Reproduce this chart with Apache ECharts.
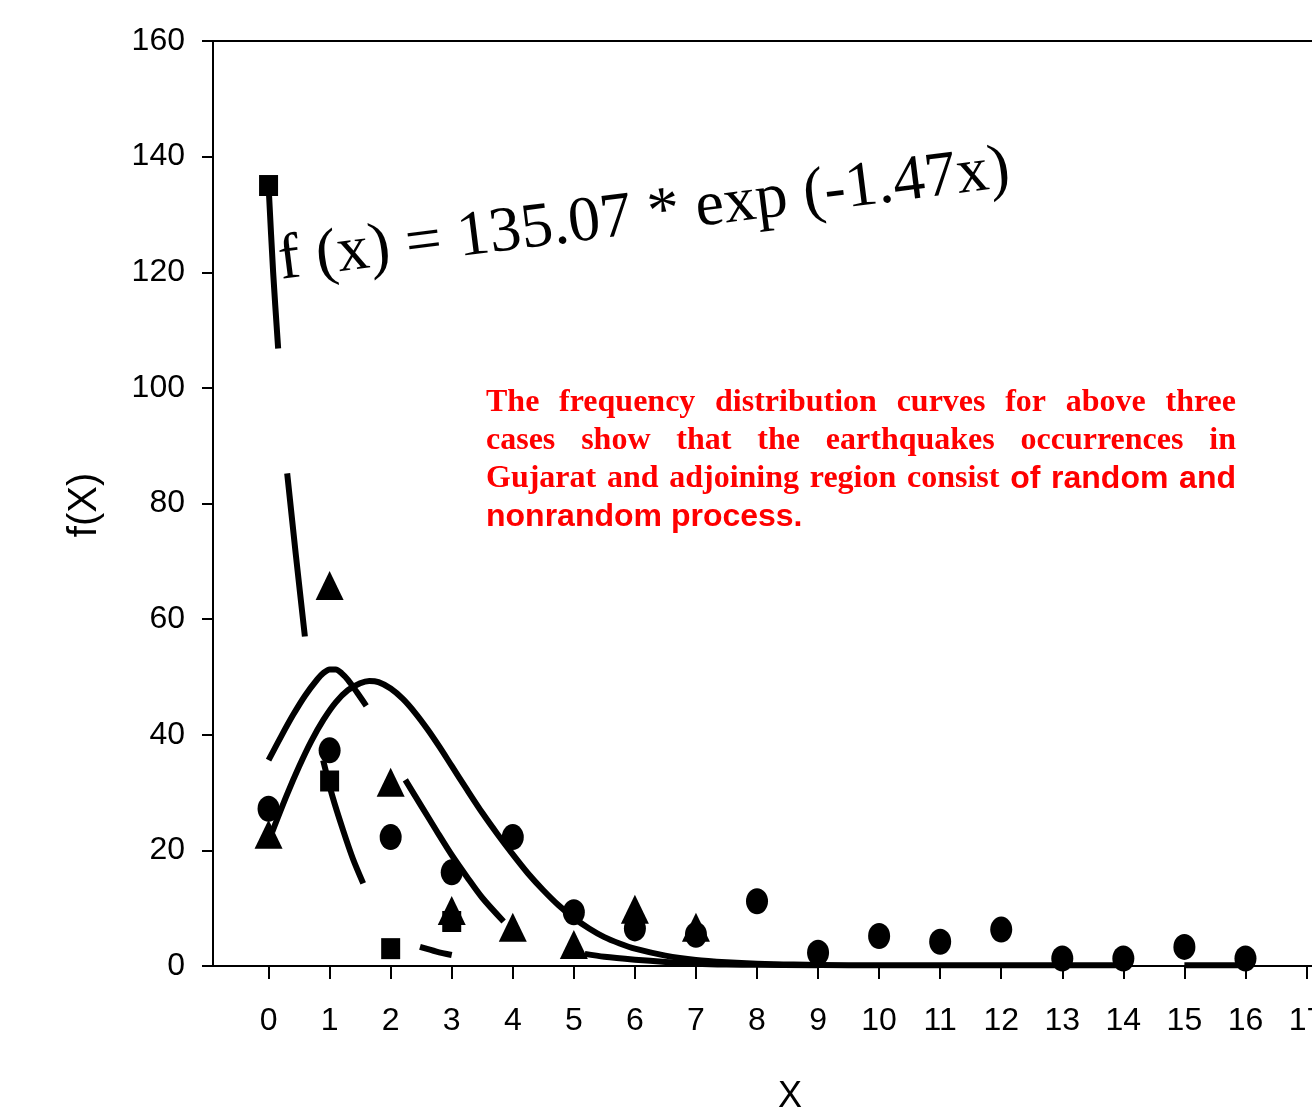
<!DOCTYPE html>
<html>
<head>
<meta charset="utf-8">
<script src="https://cdn.jsdelivr.net/npm/echarts@6.0.0/dist/echarts.min.js"></script>
<style>
  html, body { margin: 0; padding: 0; background: #fff; }
  #chart { width: 1312px; height: 1115px; }
</style>
</head>
<body>
<div id="chart"></div>
<script>
// axis ticks
const xTicks = [0, 1, 2, 3, 4, 5, 6, 7, 8, 9, 10, 11, 12, 13, 14, 15, 16, 17];
const yTicks = [0, 20, 40, 60, 80, 100, 120, 140, 160];

const squareX = [0, 1, 2, 3];
const squareY = [135.0, 32.0, 3.0, 7.7];
const triangleX = [0, 1, 2, 3, 4, 5, 6, 7];
const triangleY = [22.8, 65.8, 31.8, 9.6, 6.7, 3.7, 9.8, 6.7];
const circleX = [0, 1, 2, 3, 4, 5, 6, 7, 8, 9, 10, 11, 12, 13, 14, 15, 16];
const circleY = [27.2, 37.3, 22.3, 16.2, 22.3, 9.3, 6.5, 5.4, 11.2, 2.3, 5.2, 4.2, 6.3, 1.3, 1.3, 3.3, 1.3];

// fitted curves; null = gap in the dashed line
const expCurve = [
  [0, 135.0], [0.075, 120.0], [0.157, 106.8], null,
  [0.305, 85.2], [0.447, 71.1], [0.595, 57.0], null,
  [0.894, 35.6], [1.05, 29.2], [1.22, 23.5], [1.38, 18.6], [1.55, 14.3], null,
  [2.48, 3.3], [2.75, 2.5], [3.0, 1.9]
];
const peakCurveA = [
  [0, 35.6], [0.2, 39.6], [0.4, 43.4], [0.6, 46.8], [0.8, 49.6], [0.9, 50.7], [1.0, 51.3],
  [1.1, 51.3], [1.2, 50.6], [1.3, 49.5], [1.45, 47.3], [1.6, 45.0], null,
  [2.24, 32.2], [2.5, 27.7], [2.75, 23.4], [3.0, 19.2], [3.25, 15.4], [3.5, 11.8], [3.85, 7.7], null,
  [5.18, 2.1], [5.5, 1.6], [6.0, 1.1], [6.5, 0.7], [7.0, 0.4], [7.5, 0.25], [8.0, 0.2], [9.0, 0.15], null,
  [15.0, 0.15], [16.0, 0.15]
];
const peakCurveB = [
  [0.06, 23.2], [0.3, 29.6], [0.5, 34.5], [0.7, 38.9], [0.9, 42.6], [1.1, 45.6], [1.3, 47.7],
  [1.5, 48.9], [1.65, 49.3], [1.8, 49.1], [2.0, 48.0], [2.2, 46.2], [2.4, 43.8], [2.6, 41.0],
  [2.8, 37.9], [3.0, 34.6], [3.25, 30.5], [3.5, 26.5], [3.75, 22.8], [4.0, 19.3], [4.25, 16.0],
  [4.5, 13.1], [4.75, 10.5], [5.0, 8.3], [5.25, 6.5], [5.5, 5.0], [5.75, 3.9], [6.0, 3.0],
  [6.5, 1.8], [7.0, 1.05], [7.5, 0.65], [8.0, 0.4], [8.6, 0.25], [9.5, 0.15], [11.0, 0.15],
  [13.9, 0.15]
];

const equationText = 'f (x) = 135.07 * exp (-1.47x)';
const noteLines = [
  { serif: 'The frequency distribution curves for above three', sans: '', justify: true },
  { serif: 'cases show that the earthquakes occurrences in', sans: '', justify: true },
  { serif: 'Gujarat and adjoining region consist', sans: 'of random and', justify: true },
  { serif: '', sans: 'nonrandom process.', justify: false }
];

const serifBold = 'bold 32px "Liberation Serif", "Times New Roman", serif';
const sansBold = 'bold 32px "Liberation Sans", Arial, sans-serif';

const zipPts = (xs, ys) => xs.map((x, i) => [x, ys[i]]);
const withGaps = pts => pts.map(p => p || ['-', '-']);

// justified red note, word by word
const measureCtx = document.createElement('canvas').getContext('2d');
const noteLeft = 486, noteRight = 1236, noteTop = 403, noteLead = 38;
const noteElements = [];
noteLines.forEach((line, i) => {
  const words = [];
  line.serif.split(' ').filter(Boolean).forEach(w => words.push({ w, font: serifBold }));
  line.sans.split(' ').filter(Boolean).forEach(w => words.push({ w, font: sansBold }));
  const widths = words.map(o => {
    measureCtx.font = o.font;
    return measureCtx.measureText(o.w).width;
  });
  const total = widths.reduce((a, b) => a + b, 0);
  let gap;
  if (line.justify) {
    gap = (noteRight - noteLeft - total) / (words.length - 1);
  } else {
    measureCtx.font = words[0].font;
    gap = measureCtx.measureText(' ').width;
  }
  let x = noteLeft;
  words.forEach((o, k) => {
    noteElements.push({
      type: 'text',
      x: x,
      y: noteTop + i * noteLead,
      z: 10,
      style: {
        text: o.w, font: o.font, fill: '#ff0000',
        align: 'left', verticalAlign: 'middle',
        textAlign: 'left', textVerticalAlign: 'middle'
      }
    });
    x += widths[k] + gap;
  });
});

const curveStyle = { color: '#000', width: 6, cap: 'butt', join: 'round' };
const markStyle = { color: '#000', opacity: 1 };

const chart = echarts.init(document.getElementById('chart'), null, { renderer: 'canvas' });
chart.setOption({
  animation: false,
  backgroundColor: '#fff',
  grid: {
    left: 213,
    right: 0,
    top: 41,
    bottom: 149,
    containLabel: false,
    outerBoundsMode: 'none'
  },
  xAxis: [
    {
      type: 'value',
      min: -0.91,
      max: 17.09,
      splitLine: { show: false },
      axisLine: { show: true, onZero: false, lineStyle: { color: '#000', width: 2 } },
      axisTick: { show: true, length: 13, customValues: xTicks, lineStyle: { color: '#000', width: 2 } },
      axisLabel: {
        customValues: xTicks,
        margin: 39,
        color: '#000',
        fontSize: 32,
        fontFamily: '"Liberation Sans", Arial, sans-serif'
      }
    },
    {
      type: 'value',
      position: 'top',
      min: -0.91,
      max: 17.09,
      splitLine: { show: false },
      axisLine: { show: true, onZero: false, lineStyle: { color: '#000', width: 2 } },
      axisTick: { show: false },
      axisLabel: { show: false }
    }
  ],
  yAxis: {
    type: 'value',
    min: 0,
    max: 160,
    interval: 20,
    splitLine: { show: false },
    axisLine: { show: true, onZero: false, lineStyle: { color: '#000', width: 2 } },
    axisTick: { show: true, length: 11, lineStyle: { color: '#000', width: 2 } },
    axisLabel: {
      customValues: yTicks,
      margin: 28,
      color: '#000',
      fontSize: 32,
      fontFamily: '"Liberation Sans", Arial, sans-serif'
    }
  },
  series: [
    {
      type: 'line', data: withGaps(expCurve), smooth: 0.3, symbol: 'none',
      lineStyle: curveStyle, connectNulls: false, z: 3
    },
    {
      type: 'line', data: withGaps(peakCurveA), smooth: 0.3, symbol: 'none',
      lineStyle: curveStyle, connectNulls: false, z: 3
    },
    {
      type: 'line', data: withGaps(peakCurveB), smooth: 0.3, symbol: 'none',
      lineStyle: curveStyle, connectNulls: false, z: 3
    },
    {
      type: 'scatter', data: zipPts(squareX, squareY), symbol: 'rect', symbolSize: [19, 21],
      itemStyle: markStyle, z: 4
    },
    {
      type: 'scatter', data: zipPts(circleX, circleY), symbol: 'circle', symbolSize: [22, 26],
      itemStyle: markStyle, z: 4
    },
    {
      type: 'scatter', data: zipPts(triangleX, triangleY), symbol: 'triangle', symbolSize: [28, 29],
      itemStyle: markStyle, z: 5
    }
  ],
  graphic: [
    {
      type: 'text',
      x: 279,
      y: 262,
      rotation: 7.2 * Math.PI / 180,
      z: 10,
      style: {
        text: equationText,
        font: '64px "Liberation Serif", "Times New Roman", serif',
        fill: '#000',
        align: 'left', verticalAlign: 'middle',
        textAlign: 'left', textVerticalAlign: 'middle'
      }
    },
    {
      type: 'text',
      x: 85,
      y: 505,
      rotation: Math.PI / 2,
      style: {
        text: 'f(X)',
        font: '40px "Liberation Sans", Arial, sans-serif',
        fill: '#000',
        align: 'center', verticalAlign: 'middle',
        textAlign: 'center', textVerticalAlign: 'middle'
      }
    },
    {
      type: 'text',
      x: 790,
      y: 1097,
      style: {
        text: 'X',
        font: '36px "Liberation Sans", Arial, sans-serif',
        fill: '#000',
        align: 'center', verticalAlign: 'middle',
        textAlign: 'center', textVerticalAlign: 'middle'
      }
    }
  ].concat(noteElements)
});
</script>
</body>
</html>
